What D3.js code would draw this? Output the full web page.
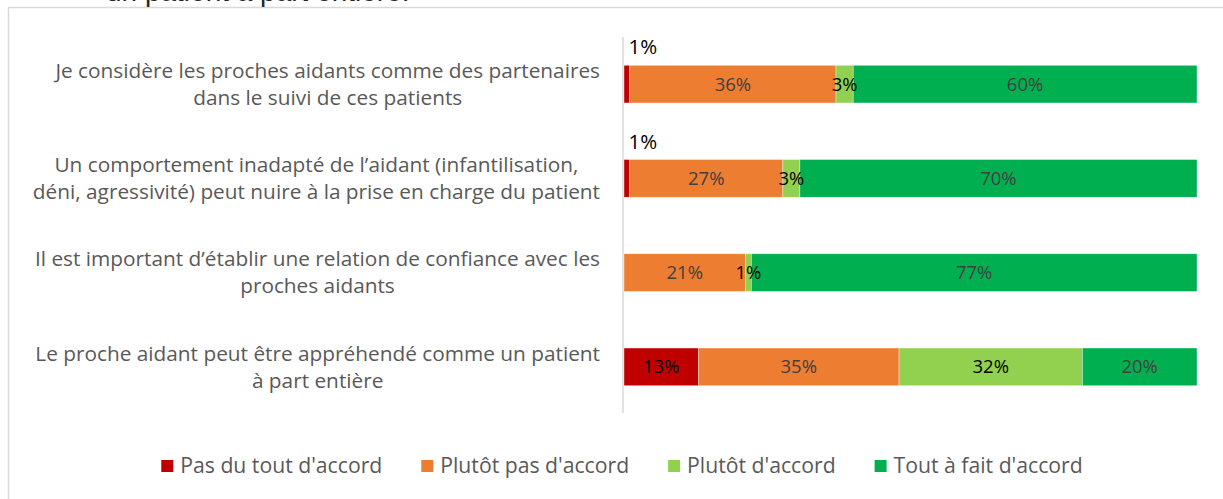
<!DOCTYPE html>
<html><head><meta charset="utf-8">
<script src="https://cdn.jsdelivr.net/npm/d3@7"></script>
<style>body{margin:0;background:#fff;overflow:hidden}svg{display:block}</style>
</head><body>
<svg id="c" width="1223" height="499"></svg>
<script>
const categories = [
  ["Je considère les proches aidants comme des partenaires", "dans le suivi de ces patients"],
  ["Un comportement inadapté de l’aidant (infantilisation,", "déni, agressivité) peut nuire à la prise en charge du patient"],
  ["Il est important d’établir une relation de confiance avec les", "proches aidants"],
  ["Le proche aidant peut être appréhendé comme un patient", "à part entière"]
];
const seriesNames = ["Pas du tout d'accord", "Plutôt pas d'accord", "Plutôt d'accord", "Tout à fait d'accord"];
const pasDuTout = [1, 1, 0, 13];
const plutotPas = [36, 27, 21, 35];
const plutot = [3, 3, 1, 32];
const toutAFait = [60, 70, 77, 20];
const colors = ["#C00000", "#ED7D31", "#92D050", "#00B050"];
const labelColors = ["#000000", "#404040", "#000000", "#404040"];
const titleTail = "un patient à part entière.";

const svg = d3.select("#c");
const font = "'Open Sans', sans-serif";

// outer chart border
svg.append("rect").attr("x", 8.5).attr("y", 7.5).attr("width", 1300).attr("height", 600)
  .attr("fill", "none").attr("stroke", "#d9d9d9").attr("stroke-width", 1.5);

// clipped title tail (cut off by the top edge, as in the reference)
svg.append("text").attr("x", 106).attr("y", 1).attr("font-family", "'Liberation Sans', Arial, sans-serif")
  .attr("font-size", 28).attr("fill", "#262626").text(titleTail);

const rows = categories.map((c, i) => ({
  idx: i, v0: pasDuTout[i], v1: plutotPas[i], v2: plutot[i], v3: toutAFait[i]
}));
const keys = ["v0", "v1", "v2", "v3"];
const stack = d3.stack().keys(keys).offset(d3.stackOffsetExpand);
const stacked = stack(rows);

const x = d3.scaleLinear().domain([0, 1]).range([624, 1197]);
const y = d3.scaleBand().domain(d3.range(categories.length)).range([37, 414])
  .paddingInner(0.6).paddingOuter(0.3);

// axis line
svg.append("line").attr("x1", 623).attr("x2", 623).attr("y1", 37).attr("y2", 413)
  .attr("stroke", "#d9d9d9").attr("stroke-width", 1.5);

const g = svg.append("g");
stacked.forEach((layer, si) => {
  g.selectAll(null).data(layer).enter().append("rect")
    .attr("x", d => x(d[0])).attr("width", d => Math.max(0, x(d[1]) - x(d[0])))
    .attr("y", (d, i) => y(i)).attr("height", y.bandwidth())
    .attr("fill", colors[si]).attr("stroke", "#ffffff").attr("stroke-width", 0.6)
    .attr("stroke-opacity", d => (d[1] - d[0]) > 0 ? 0.6 : 0);
});

// data labels
stacked.forEach((layer, si) => {
  layer.forEach((d, i) => {
    const v = d.data[keys[si]];
    if (v <= 0) return;
    const cx = (x(d[0]) + x(d[1])) / 2;
    const small = si === 0 && v < 2;
    svg.append("text")
      .attr("x", small ? cx + 16 : cx)
      .attr("y", small ? y(i) - 11 : y(i) + y.bandwidth() / 2)
      .attr("dy", small ? 0 : "0.35em")
      .attr("text-anchor", "middle")
      .attr("font-family", font).attr("font-size", small ? 20.5 : 18.5)
      .attr("fill", small ? "#000" : labelColors[si])
      .text(v + "%");
  });
});

// category labels
categories.forEach((lines, i) => {
  const cy = y(i) + y.bandwidth() / 2;
  const lh = 27;
  const grp = svg.append("g");
  const texts = lines.map((t, k) => grp.append("text")
    .attr("y", cy + (k - (lines.length - 1) / 2) * lh)
    .attr("dy", "0.35em")
    .attr("text-anchor", "middle")
    .attr("font-family", font).attr("font-size", 20.8).attr("fill", "#595959").text(t));
  const w = d3.max(texts, t => t.node().getComputedTextLength());
  texts.forEach(t => t.attr("x", 600 - w / 2));
});

// legend
const lg = svg.append("g");
let lx = 0;
seriesNames.forEach((n, i) => {
  const it = lg.append("g").attr("transform", `translate(${lx},0)`);
  it.append("rect").attr("x", 0).attr("y", -6).attr("width", 12).attr("height", 12).attr("fill", colors[i]);
  const t = it.append("text").attr("x", 19).attr("dy", "0.35em").attr("font-family", font)
    .attr("font-size", 21.2).attr("fill", "#595959").text(n);
  const w = 19 + t.node().getComputedTextLength();
  lx += w + 39;
});
const totalW = lx - 39;
lg.attr("transform", `translate(${622 - totalW / 2},466)`);
</script>
</body></html>
